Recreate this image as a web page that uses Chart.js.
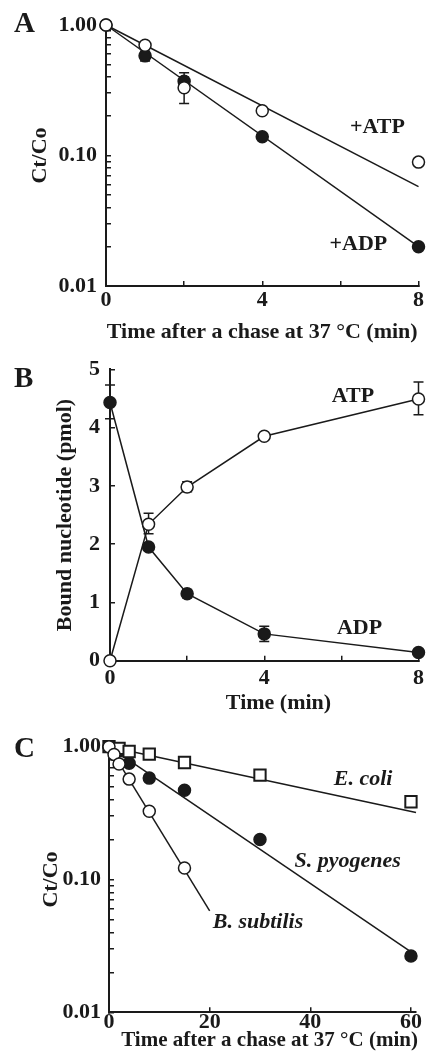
<!DOCTYPE html>
<html>
<head>
<meta charset="utf-8">
<script src="https://cdn.jsdelivr.net/npm/chart.js@4/dist/chart.umd.min.js"></script>
<style>
html, body { margin: 0; padding: 0; background: #fff; }
#wrap { position: relative; width: 426px; height: 1054px; overflow: hidden; }
#wrap canvas { position: absolute; left: 0; top: 0; }
.tag { position: absolute; left: 14px; font: bold 29px "Liberation Serif", serif; line-height: 1; color: #1a1a1a; }
</style>
</head>
<body>
<div id="wrap">
    <canvas id="chartA" width="426" height="1054"></canvas>
    <canvas id="chartB" width="426" height="1054"></canvas>
    <canvas id="chartC" width="426" height="1054"></canvas>
    <div class="tag" style="top:8px">A</div>
    <div class="tag" style="top:363px">B</div>
    <div class="tag" style="top:733px">C</div>
</div>
<script>
// --- Panel A: Ct/Co after chase, log scale ---
const timeA    = [0, 1, 2, 4, 8];
const atpA     = [1.0, 0.70, 0.33, 0.22, 0.089];
const atpErrA  = [null, null, [0.25, 0.40], null, null];
const adpA     = [1.0, 0.58, 0.37, 0.139, 0.020];
const adpErrA  = [null, [0.53, 0.63], [0.33, 0.43], null, null];
const fitTimeA = [0, 8];
const atpFitA  = [1.0, 0.0577];
const adpFitA  = [1.0, 0.020];
const xTicksA  = [0, 2, 4, 6, 8];
const xLabelsA = [0, 4, 8];

const logTicks  = [0.01, 0.02, 0.03, 0.04, 0.05, 0.06, 0.07, 0.08, 0.09,
                   0.1, 0.2, 0.3, 0.4, 0.5, 0.6, 0.7, 0.8, 0.9, 1];
const logLabels = [0.01, 0.1, 1];

// --- Panel B: bound nucleotide ---
const timeB    = [0, 1, 2, 4, 8];
const atpB     = [0, 2.34, 2.98, 3.85, 4.49];
const atpErrB  = [null, [2.18, 2.53], [2.90, 3.07], null, [4.22, 4.78]];
const adpB     = [4.43, 1.95, 1.15, 0.46, 0.14];
const adpErrB  = [[4.15, 4.73], null, [1.08, 1.22], [0.33, 0.59], null];
const xTicksB  = [0, 2, 4, 6, 8];
const xLabelsB = [0, 4, 8];
const yTicksB  = [0, 1, 2, 3, 4, 5];

// --- Panel C: three species ---
const timeSub   = [0, 1, 2, 4, 8, 15];
const subtilis  = [1.0, 0.875, 0.74, 0.57, 0.327, 0.122];
const timeColi  = [0, 2, 4, 8, 15, 30, 60];
const coli      = [1.0, 0.97, 0.92, 0.88, 0.76, 0.61, 0.385];
const timePyo   = [0, 1, 2, 4, 8, 15, 30, 60];
const pyogenes  = [1.0, 0.96, 0.93, 0.75, 0.58, 0.47, 0.20, 0.0265];
const fitSubT   = [0, 20];
const fitSub    = [1.0, 0.058];
const fitColiT  = [0, 61];
const fitColi   = [1.0, 0.32];
const fitPyoT   = [0, 60];
const fitPyo    = [1.0, 0.0285];
const xTicksC   = [0, 20, 40, 60];

const INK   = '#1a1a1a';
const SERIF = '"Liberation Serif", "Times New Roman", serif';

Chart.defaults.font.family = SERIF;
Chart.defaults.font.weight = 'bold';
Chart.defaults.font.size   = 22;
Chart.defaults.color       = INK;

const pts = (xs, ys) => xs.map((x, i) => ({ x, y: ys[i] }));

// error bars drawn under the markers
const errorBars = {
    id: 'errorBars',
    beforeDatasetsDraw(chart) {
        const ctx = chart.ctx;
        const xs = chart.scales.x, ys = chart.scales.y;
        ctx.save();
        ctx.strokeStyle = INK;
        ctx.lineWidth = 1.5;
        chart.data.datasets.forEach(ds => {
            if (!ds.errors) return;
            ds.errors.forEach((e, j) => {
                if (!e) return;
                const px = xs.getPixelForValue(ds.data[j].x);
                const lo = ys.getPixelForValue(e[0]);
                const hi = ys.getPixelForValue(e[1]);
                ctx.beginPath();
                ctx.moveTo(px, lo);     ctx.lineTo(px, hi);
                ctx.moveTo(px - 5, lo); ctx.lineTo(px + 5, lo);
                ctx.moveTo(px - 5, hi); ctx.lineTo(px + 5, hi);
                ctx.stroke();
            });
        });
        ctx.restore();
    }
};

// curve labels placed in data units
const notes = {
    id: 'notes',
    afterDatasetsDraw(chart, args, opts) {
        const ctx = chart.ctx;
        ctx.save();
        ctx.fillStyle = INK;
        ctx.textAlign = 'center';
        ctx.textBaseline = 'middle';
        (opts.items || []).forEach(n => {
            ctx.font = `${n.italic ? 'italic ' : ''}bold ${n.size || 22}px ${SERIF}`;
            ctx.fillText(n.text, chart.scales.x.getPixelForValue(n.x), chart.scales.y.getPixelForValue(n.y));
        });
        ctx.restore();
    }
};

const marker = (open, extra) => Object.assign({
    showLine: false,
    pointRadius: 6,
    pointBorderWidth: 1.5,
    pointBorderColor: INK,
    pointBackgroundColor: open ? '#fff' : INK,
    clip: false
}, extra);

const fitLine = extra => Object.assign({
    showLine: true,
    pointRadius: 0,
    borderColor: INK,
    borderWidth: 1.5,
    clip: false
}, extra);

function axisX(p) {
    return {
        type: 'linear',
        min: p.min, max: p.max,
        afterBuildTicks: s => { s.ticks = p.ticks.map(v => ({ value: v })); },
        afterFit: s => { s.height = p.h; s.paddingLeft = 0; s.paddingRight = 0; },
        ticks: {
            autoSkip: false, maxRotation: 0, padding: p.pad, color: INK,
            callback: v => p.labels.includes(v) ? String(v) : ''
        },
        grid: { drawOnChartArea: false, drawTicks: true, tickLength: -5, lineWidth: 1.5, color: INK },
        border: { display: true, width: 2, color: INK },
        title: { display: !!p.title, text: p.title || '', color: INK, padding: { top: 0, bottom: p.tpad } }
    };
}

function axisY(p) {
    const log = p.type === 'logarithmic';
    return {
        type: p.type,
        min: p.min, max: p.max,
        afterBuildTicks: s => { s.ticks = p.ticks.map(v => ({ value: v })); },
        afterFit: s => { s.width = p.w; s.paddingTop = 0; s.paddingBottom = 0; },
        ticks: {
            autoSkip: false, padding: p.pad, color: INK,
            callback: v => log ? (logLabels.includes(v) ? v.toFixed(2) : '') : String(v)
        },
        grid: { drawOnChartArea: false, drawTicks: true, tickLength: -5, lineWidth: 1.5, color: INK },
        border: { display: true, width: 2, color: INK },
        title: { display: true, text: p.title, color: INK, padding: { top: p.tpad, bottom: 0 } }
    };
}

function baseOptions(pad, notesList, x, y) {
    return {
        responsive: false,
        animation: false,
        events: [],
        layout: { padding: pad },
        plugins: { legend: { display: false }, tooltip: { enabled: false }, notes: { items: notesList } },
        scales: { x, y }
    };
}

// A
new Chart(document.getElementById('chartA'), {
    type: 'scatter',
    data: { datasets: [
        marker(true,  { data: pts(timeA, atpA), errors: atpErrA }),
        marker(false, { data: pts(timeA, adpA), errors: adpErrA }),
        fitLine({ data: pts(fitTimeA, atpFitA) }),
        fitLine({ data: pts(fitTimeA, adpFitA) })
    ]},
    options: baseOptions(
        { top: 25, left: 0, right: 5, bottom: 706 },
        [{ text: '+ATP', x: 6.95, y: 0.163 }, { text: '+ADP', x: 6.46, y: 0.021 }],
        axisX({ min: 0, max: 8, ticks: xTicksA, labels: xLabelsA, h: 62, pad: 5.8, tpad: 2.8,
                title: 'Time after a chase at 37 °C (min)' }),
        axisY({ type: 'logarithmic', min: 0.01, max: 1, ticks: logTicks, w: 106, pad: 14, tpad: 26.8, title: 'Ct/Co' })
    ),
    plugins: [errorBars, notes]
});

// B (x title sits right of centre in the source, so it is placed as a note)
new Chart(document.getElementById('chartB'), {
    type: 'scatter',
    data: { datasets: [
        marker(true,  { data: pts(timeB, atpB), errors: atpErrB, showLine: true, borderColor: INK, borderWidth: 1.5 }),
        marker(false, { data: pts(timeB, adpB), errors: adpErrB, showLine: true, borderColor: INK, borderWidth: 1.5 })
    ]},
    options: baseOptions(
        { top: 369.3, left: 0, right: 5, bottom: 338.3 },
        [{ text: 'ATP', x: 6.3, y: 4.54 }, { text: 'ADP', x: 6.47, y: 0.56 },
         { text: 'Time (min)', x: 4.37, y: -0.73 }],
        axisX({ min: 0, max: 8, ticks: xTicksB, labels: xLabelsB, h: 55, pad: 9.4 }),
        axisY({ type: 'linear', min: 0, max: 5, ticks: yTicksB, w: 110, pad: 15, tpad: 51.8, title: 'Bound nucleotide (pmol)' })
    ),
    plugins: [errorBars, notes]
});

// C (x title also offset to the right in the source)
new Chart(document.getElementById('chartC'), {
    type: 'scatter',
    data: { datasets: [
        marker(true,  { data: pts(timeSub, subtilis) }),
        marker(true,  { data: pts(timeColi, coli), pointStyle: 'rect', pointRadius: 8, pointBorderWidth: 2 }),
        marker(false, { data: pts(timePyo, pyogenes) }),
        fitLine({ data: pts(fitSubT, fitSub) }),
        fitLine({ data: pts(fitColiT, fitColi) }),
        fitLine({ data: pts(fitPyoT, fitPyo) })
    ]},
    options: baseOptions(
        { top: 746.7, left: 0, right: 5, bottom: 0 },
        [{ text: 'E. coli', x: 50.5, y: 0.571, italic: true },
         { text: 'S. pyogenes', x: 47.4, y: 0.138, italic: true },
         { text: 'B. subtilis', x: 29.6, y: 0.048, italic: true },
         { text: 'Time after a chase at 37 °C (min)', x: 31.9, y: 0.00608, size: 21 }],
        axisX({ min: 0, max: 61, ticks: xTicksC, labels: xTicksC, h: 41.7, pad: 1.5 }),
        axisY({ type: 'logarithmic', min: 0.01, max: 1, ticks: logTicks, w: 109, pad: 13, tpad: 38.5, title: 'Ct/Co' })
    ),
    plugins: [errorBars, notes]
});
</script>
</body>
</html>
